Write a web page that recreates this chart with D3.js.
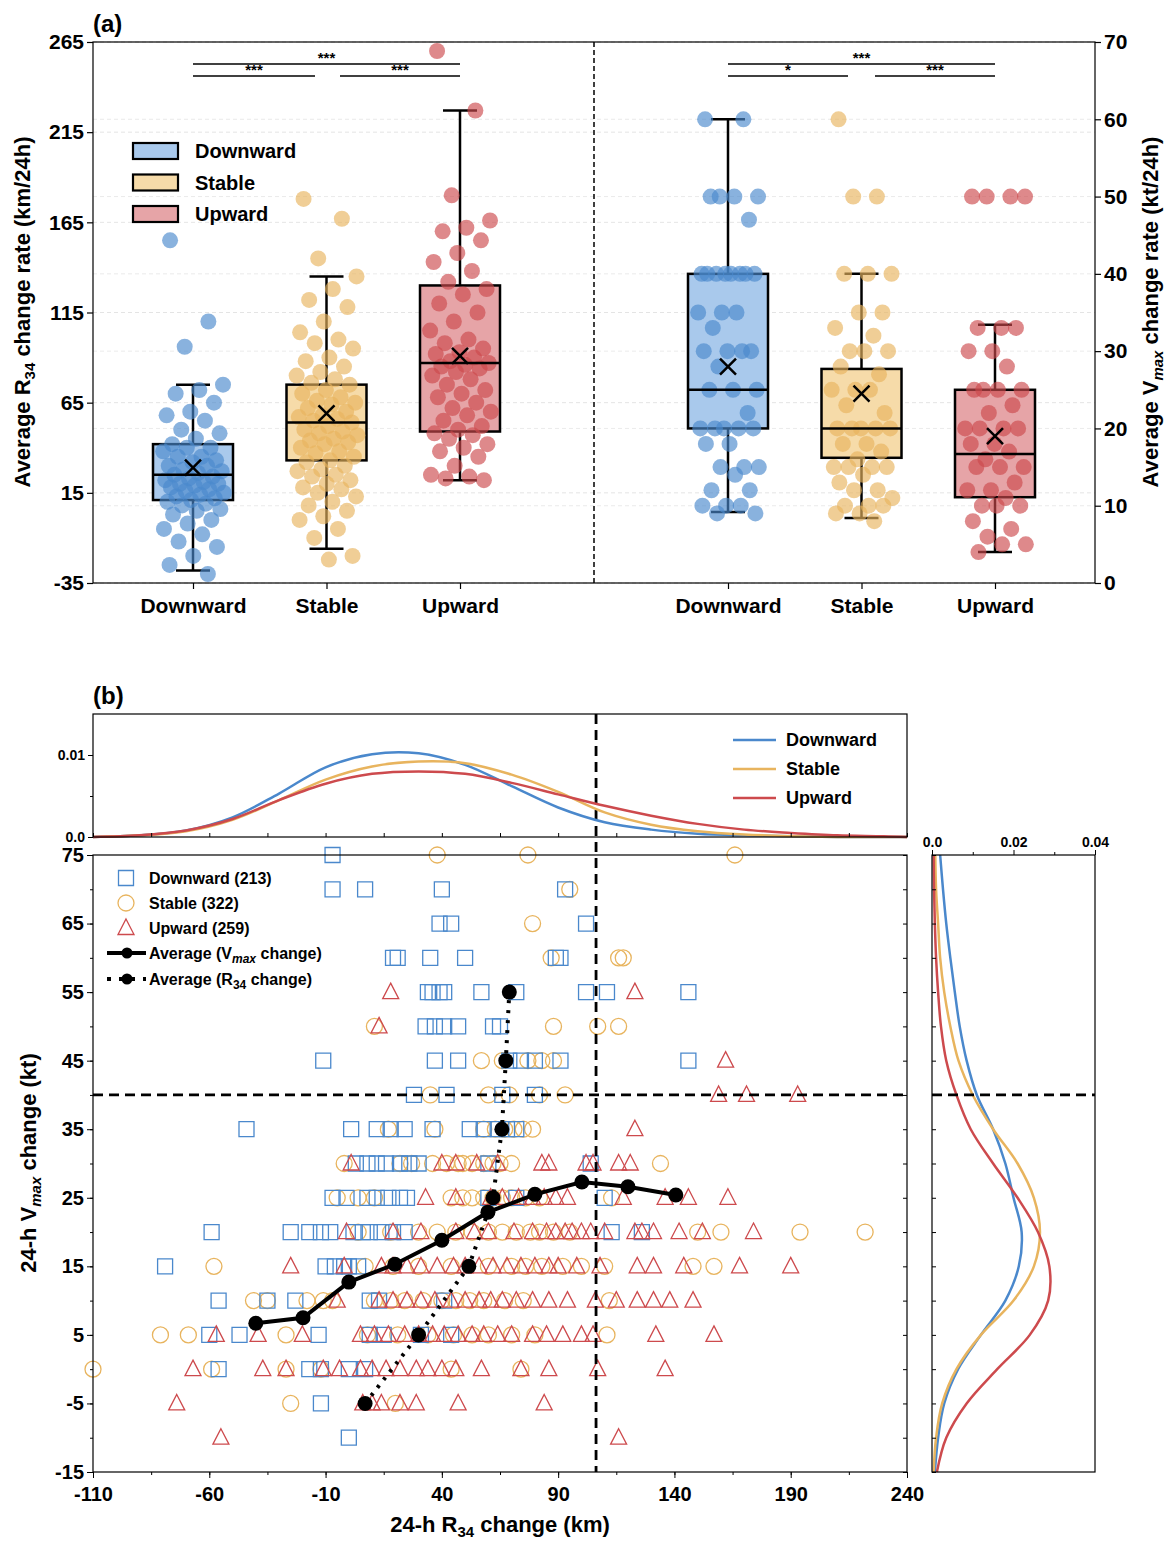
<!DOCTYPE html>
<html><head><meta charset="utf-8">
<script src="https://cdn.jsdelivr.net/npm/d3@7"></script>
<style>
body{margin:0;background:#fff;}
text{font-family:"Liberation Sans",Arial,sans-serif;}
</style></head>
<body><svg id="chart" width="1175" height="1548"></svg>
<script>
// ---------- data: panel (a) ----------
var groups = ["Downward", "Stable", "Upward"];
var colors = ["#4a88cc", "#e8b45e", "#cd4a4d"];
var fills = ["#a9c9ec", "#f6dba9", "#e6a4a7"];

// box stats [whiskerLow, q1, median, q3, whiskerHigh, mean]
var r34Box = [[-28, 11, 25, 42, 75, 29], [-16, 33, 54, 75, 135, 59], [22, 49, 87, 130, 227, 91]];
var vmaxBox = [[9.2, 20, 25, 40, 60, 28], [8.4, 16.2, 20, 27.7, 40, 24.5], [4, 11.1, 16.7, 25, 33.4, 19]];

var r34Down = [155, 110, 96, 75, 72, 70, 65, 60, 58, 55, 50, 48, 45, 42, 40, 40, 38, 35, 35, 33, 32, 30, 30, 28, 27, 26, 25, 24, 23, 22, 21, 20, 20, 19, 18, 17, 16, 15, 14, 13, 12, 11, 10, 9, 8, 6, 5, 3, 0, -2, -5, -8, -12, -15, -20, -25, -30];
var r34Stable = [178, 167, 145, 135, 128, 122, 118, 110, 104, 100, 98, 95, 90, 88, 85, 82, 80, 78, 76, 75, 72, 70, 68, 66, 65, 64, 62, 60, 58, 57, 56, 55, 54, 52, 50, 49, 48, 47, 45, 44, 43, 42, 40, 38, 37, 35, 33, 32, 30, 28, 27, 25, 24, 22, 20, 18, 17, 15, 13, 10, 8, 5, 2, 0, -5, -10, -20, -22];
var r34Up = [260, 227, 180, 166, 162, 160, 155, 148, 143, 138, 132, 128, 125, 120, 115, 110, 105, 100, 98, 95, 93, 92, 90, 88, 87, 86, 85, 84, 82, 80, 78, 75, 72, 70, 68, 65, 62, 60, 58, 55, 52, 50, 48, 47, 45, 42, 40, 38, 35, 30, 25, 24, 23, 22];
var vmaxDown = [60, 60, 50, 50, 50, 50, 47, 40, 40, 40, 40, 40, 40, 40, 40, 35, 35, 35, 33, 30, 30, 30, 30, 28, 25, 25, 25, 22, 20, 20, 20, 20, 20, 18, 18, 15, 15, 15, 14, 12, 12, 10, 10, 10, 9, 9];
var vmaxStable = [60, 50, 50, 40, 40, 40, 35, 35, 33, 32, 30, 30, 30, 28, 27, 25, 25, 25, 23, 22, 20, 20, 20, 20, 20, 18, 18, 17, 16, 15, 15, 15, 15, 14, 13, 12, 12, 11, 10, 10, 10, 9, 9, 8];
var vmaxUp = [50, 50, 50, 50, 33, 33, 33, 30, 30, 28, 25, 25, 25, 25, 23, 22, 20, 20, 20, 20, 18, 18, 17, 16, 15, 15, 15, 13, 12, 12, 11, 10, 10, 10, 8, 7, 6, 5, 5, 4];

var r34Ticks = [-35, 15, 65, 115, 165, 215, 265];
var vmaxTicks = [0, 10, 20, 30, 40, 50, 60, 70];

// ---------- data: panel (b) ----------
var levels = [75, 70, 65, 60, 55, 50, 45, 40, 35, 30, 25, 20, 15, 10, 5, 0, -5, -10];
var scatDown = [
  [-7], [-7, 7, 40, 93], [39, 44, 102], [19, 21, 35, 50, 89, 91],
  [34, 36, 39, 41, 57, 72, 102, 111, 146], [33, 37, 41, 47, 62, 65], [-11, 37, 47, 69, 74, 80, 91, 146],
  [28, 42, 66, 80], [-44, 1, 12, 18, 24, 36, 52, 58, 64, 68, 72],
  [3, 8, 12, 16, 22, 26, 30, 60, 104], [-1, -7, 8, 12, 17, 22, 25, 60, 72, 110],
  [-59, -25, -17, -12, -8, 2, 6, 9, 14, 19, 24, 113, 126], [-79, -10, -6, -2, 0, 4], [-56, -35, -23, 9, 13, 41],
  [-60, -47, -13, 9, 15, 31, 44], [-56, -17, -12, 0, 7], [-12], [0]];
var scatStable = [
  [38, 77, 166], [95], [79], [87, 116, 118],
  [], [11, 88, 107, 116], [57, 66, 77, 83, 88],
  [35, 60, 69, 82, 93], [17, 37, 58, 63, 67, 71, 75, 79],
  [-2, 22, 27, 36, 42, 47, 49, 53, 58, 62, 65, 70, 134], [-5, 4, 11, 44, 49, 53, 58, 62, 66, 70, 76, 82, 113],
  [4, 18, 30, 38, 46, 53, 60, 66, 72, 78, 82, 88, 95, 150, 160, 194, 222], [-58, 7, 19, 30, 44, 60, 70, 76, 83, 92, 100, 110, 148, 157], [-41, -35, -18, -11, -7, 11, 18, 24, 32, 40, 46, 52, 58, 67, 75, 112],
  [-81, -69, -27, 8, 21, 34, 45, 53, 60, 70, 80, 111], [-110, -59, -27, -12, 44, 74], [-25, 20], []];
var scatUp = [
  [], [], [], [],
  [18, 123], [13], [162],
  [159, 171, 193], [123],
  [1, 40, 46, 55, 64, 83, 86, 102, 105, 116, 121], [33, 46, 61, 66, 73, 79, 84, 89, 94, 118, 136, 146, 163],
  [-1, 19, 31, 46, 54, 60, 71, 79, 85, 89, 93, 96, 100, 104, 110, 123, 126, 131, 142, 152, 174], [-25, -2, 14, 19, 25, 31, 38, 45, 50, 56, 62, 68, 74, 80, 86, 90, 98, 108, 124, 131, 144, 168, 190], [-5, 13, 19, 25, 31, 37, 44, 50, 56, 61, 66, 72, 79, 86, 94, 106, 115, 124, 131, 138, 148],
  [-57, -39, -20, 5, 11, 17, 24, 30, 36, 41, 47, 53, 58, 64, 70, 79, 85, 92, 100, 105, 132, 157], [-67, -37, -27, -11, -4, 5, 10, 16, 22, 29, 34, 40, 46, 57, 74, 86, 107, 136], [-74, 6, 10, 14, 22, 29, 47, 84], [-55, 116]];
var avgVmaxX = [-40, -19.7, 0, 19.8, 40, 59.8, 80, 100.2, 120, 140.6];
var avgVmaxY = [6.7, 7.5, 12.7, 15.3, 18.8, 22.9, 25.5, 27.3, 26.6, 25.4];
var avgR34X = [7, 30, 51.6, 62, 65.8, 67.5, 69];
var avgR34Y = [-5, 5, 15, 25, 35, 45, 55];

var kdeXGrid = [-110, -90, -70, -50, -30, -10, 10, 30, 50, 70, 90, 110, 130, 150, 170, 190, 210, 230, 240];
var kdeXDown = [0, 0.0002, 0.0008, 0.0024, 0.0053, 0.0085, 0.0101, 0.0102, 0.0088, 0.0062, 0.0036, 0.0018, 0.0009, 0.0004, 0.0002, 0.0001, 0, 0, 0];
var kdeXStable = [0, 0.0002, 0.0007, 0.0021, 0.0045, 0.0070, 0.0086, 0.0092, 0.0090, 0.0076, 0.0055, 0.0030, 0.0015, 0.0007, 0.0003, 0.0001, 0, 0, 0];
var kdeXUp = [0, 0.0002, 0.0008, 0.0022, 0.0045, 0.0065, 0.0077, 0.0080, 0.0077, 0.0066, 0.0052, 0.0038, 0.0026, 0.0016, 0.0009, 0.0005, 0.0002, 0.0001, 0];
var kdeYGrid = [-15, -10, -5, 0, 5, 10, 15, 20, 25, 30, 35, 40, 45, 50, 55, 60, 65, 70, 75];
var kdeYDown = [0.0007, 0.0015, 0.003, 0.0064, 0.012, 0.018, 0.0213, 0.022, 0.020, 0.018, 0.015, 0.011, 0.0085, 0.0068, 0.0056, 0.0045, 0.0035, 0.0027, 0.002];
var kdeYStable = [0.0004, 0.001, 0.0025, 0.006, 0.012, 0.020, 0.025, 0.0265, 0.025, 0.021, 0.015, 0.010, 0.0065, 0.0045, 0.003, 0.002, 0.0015, 0.001, 0.0008];
var kdeYUp = [0.0012, 0.0035, 0.0085, 0.016, 0.024, 0.0285, 0.0288, 0.026, 0.021, 0.015, 0.0095, 0.006, 0.0035, 0.0022, 0.0015, 0.001, 0.0007, 0.0005, 0.0004];

var r34XTicks = [-110, -60, -10, 40, 90, 140, 190, 240];
var vmaxYTicks = [-15, -5, 5, 15, 25, 35, 45, 55, 65, 75];

// ---------- drawing ----------
var svg = d3.select("#chart");
var FONT = "Liberation Sans, Arial, sans-serif";
var fmtInt = function(d) { return String(d); };   // plain hyphen minus like the original

function jitter(i) { return ((i * 0.6180339 + 0.13) % 1 - 0.5) * 62; }

// ===== panel (a) =====
var aL = 93, aR = 1095, aT = 42, aB = 583;
var yL = d3.scaleLinear().domain([-35, 265]).range([aB, aT]);
var yR = d3.scaleLinear().domain([0, 70]).range([aB, aT]);
var xLeft = d3.scalePoint().domain(groups).range([193, 460]);
var xRight = d3.scalePoint().domain(groups).range([728, 995]);

var pa = svg.append("g");
// faint grid
r34Ticks.forEach(function(t) {
  pa.append("line").attr("x1", aL).attr("x2", aR).attr("y1", yL(t)).attr("y2", yL(t))
    .attr("stroke", "#ddd").attr("stroke-dasharray", "4,3").attr("stroke-width", 0.8);
});
vmaxTicks.forEach(function(t) {
  pa.append("line").attr("x1", aL).attr("x2", aR).attr("y1", yR(t)).attr("y2", yR(t))
    .attr("stroke", "#e4e4e4").attr("stroke-dasharray", "4,3").attr("stroke-width", 0.8);
});

function drawBoxGroup(xs, ys, stats, pts) {
  groups.forEach(function(g, gi) {
    var cx = xs(g), s = stats[gi], bw = 80;
    var gg = pa.append("g");
    gg.append("line").attr("x1", cx).attr("x2", cx).attr("y1", ys(s[0])).attr("y2", ys(s[4]))
      .attr("stroke", "#000").attr("stroke-width", 2.5);
    [s[0], s[4]].forEach(function(v) {
      gg.append("line").attr("x1", cx - 17).attr("x2", cx + 17).attr("y1", ys(v)).attr("y2", ys(v))
        .attr("stroke", "#000").attr("stroke-width", 2.5);
    });
    gg.append("rect").attr("x", cx - bw / 2).attr("width", bw).attr("y", ys(s[3]))
      .attr("height", ys(s[1]) - ys(s[3])).attr("fill", fills[gi]).attr("stroke", "#000").attr("stroke-width", 2.5);
    gg.selectAll("circle").data(pts[gi]).enter().append("circle")
      .attr("cx", function(d, i) { return cx + jitter(i); })
      .attr("cy", function(d) { return ys(d); })
      .attr("r", 8).attr("fill", colors[gi]).attr("fill-opacity", 0.65);
    gg.append("line").attr("x1", cx - bw / 2).attr("x2", cx + bw / 2).attr("y1", ys(s[2])).attr("y2", ys(s[2]))
      .attr("stroke", "#000").attr("stroke-width", 2.5);
    var my = ys(s[5]);
    gg.append("path").attr("d", "M" + (cx - 8) + "," + (my - 8) + "L" + (cx + 8) + "," + (my + 8) +
      "M" + (cx - 8) + "," + (my + 8) + "L" + (cx + 8) + "," + (my - 8))
      .attr("stroke", "#000").attr("stroke-width", 2.5);
  });
}
drawBoxGroup(xLeft, yL, r34Box, [r34Down, r34Stable, r34Up]);
drawBoxGroup(xRight, yR, vmaxBox, [vmaxDown, vmaxStable, vmaxUp]);

pa.append("line").attr("x1", 594).attr("x2", 594).attr("y1", aT).attr("y2", aB)
  .attr("stroke", "#000").attr("stroke-width", 1.5).attr("stroke-dasharray", "5,3");
pa.append("rect").attr("x", aL).attr("y", aT).attr("width", aR - aL).attr("height", aB - aT)
  .attr("fill", "none").attr("stroke", "#000").attr("stroke-width", 1.2);

// significance brackets
function bracket(x1, x2, y, label) {
  pa.append("line").attr("x1", x1).attr("x2", x2).attr("y1", y).attr("y2", y).attr("stroke", "#000").attr("stroke-width", 1.3);
  pa.append("text").attr("x", (x1 + x2) / 2).attr("y", y - 1).attr("text-anchor", "middle")
    .attr("font-size", 15).attr("font-weight", "bold").text(label);
}
bracket(193, 460, 64, "***"); bracket(193, 315, 76, "***"); bracket(340, 460, 76, "***");
bracket(728, 995, 64, "***"); bracket(728, 848, 76, "*"); bracket(875, 995, 76, "***");

// axes (a)
var axL = pa.append("g").attr("transform", "translate(" + aL + ",0)")
  .call(d3.axisLeft(yL).tickValues(r34Ticks).tickFormat(fmtInt).tickSize(6).tickSizeOuter(0));
var axR = pa.append("g").attr("transform", "translate(" + aR + ",0)")
  .call(d3.axisRight(yR).tickValues(vmaxTicks).tickFormat(fmtInt).tickSize(6).tickSizeOuter(0));
var axBL = pa.append("g").attr("transform", "translate(0," + aB + ")")
  .call(d3.axisBottom(xLeft).tickSize(6).tickSizeOuter(0));
var axBR = pa.append("g").attr("transform", "translate(0," + aB + ")")
  .call(d3.axisBottom(xRight).tickSize(6).tickSizeOuter(0));
[axL, axR, axBL, axBR].forEach(function(a) {
  a.select(".domain").remove();
  a.selectAll("text").attr("font-size", 21).attr("font-weight", "bold").attr("fill", "#000").attr("font-family", FONT);
  a.selectAll("line").attr("stroke-width", 1.2);
});
axBL.selectAll("text").attr("dy", "1.0em");
axBR.selectAll("text").attr("dy", "1.0em");

var tl = pa.append("text").attr("transform", "translate(30,312) rotate(-90)").attr("text-anchor", "middle")
  .attr("font-size", 22).attr("font-weight", "bold");
tl.append("tspan").text("Average R");
tl.append("tspan").attr("font-size", 15).attr("dy", 5).text("34");
tl.append("tspan").attr("dy", -5).text(" change rate (km/24h)");
var tr = pa.append("text").attr("transform", "translate(1158,312) rotate(-90)").attr("text-anchor", "middle")
  .attr("font-size", 22).attr("font-weight", "bold");
tr.append("tspan").text("Average V");
tr.append("tspan").attr("font-size", 15).attr("font-style", "italic").attr("dy", 5).text("max");
tr.append("tspan").attr("dy", -5).text(" change rate (kt/24h)");

pa.append("text").attr("x", 93).attr("y", 32).attr("font-size", 24).attr("font-weight", "bold").text("(a)");

// legend (a)
groups.forEach(function(g, i) {
  var y = 143 + i * 31.5;
  pa.append("rect").attr("x", 133).attr("y", y).attr("width", 45).attr("height", 16)
    .attr("fill", fills[i]).attr("stroke", "#000").attr("stroke-width", 2.2);
  pa.append("text").attr("x", 195).attr("y", y + 15).attr("font-size", 20).attr("font-weight", "bold").text(g);
});

// ===== panel (b) =====
var bL = 93, bR = 907, bT = 855, bB = 1472;
var x = d3.scaleLinear().domain([-110, 240]).range([bL, bR]);
var y = d3.scaleLinear().domain([-15, 75]).range([bB, bT]);
var pb = svg.append("g");

// scatter
function drawLevels(data, gi) {
  var flat = [];
  levels.forEach(function(l, li) { data[li].forEach(function(v) { flat.push([v, l]); }); });
  var sel = pb.append("g").selectAll("path").data(flat).enter().append("path")
    .attr("transform", function(d) { return "translate(" + x(d[0]) + "," + y(d[1]) + ")"; })
    .attr("fill", "none").attr("stroke", colors[gi]).attr("stroke-width", 1.3);
  if (gi === 0) sel.attr("d", "M-7.5,-7.5h15v15h-15z");
  else if (gi === 1) sel.attr("d", "M8,0A8,8 0 1,1 -8,0A8,8 0 1,1 8,0");
  else sel.attr("d", "M0,-9L8,6.5L-8,6.5Z");
}
drawLevels(scatStable, 1);
drawLevels(scatDown, 0);
drawLevels(scatUp, 2);

// dashed reference lines
pb.append("line").attr("x1", x(106.3)).attr("x2", x(106.3)).attr("y1", 714).attr("y2", bB)
  .attr("stroke", "#000").attr("stroke-width", 2.8).attr("stroke-dasharray", "10,6");
pb.append("line").attr("x1", bL).attr("x2", bR).attr("y1", y(40)).attr("y2", y(40))
  .attr("stroke", "#000").attr("stroke-width", 2.8).attr("stroke-dasharray", "10,6");

// averages
var avgV = avgVmaxX.map(function(d, i) { return [d, avgVmaxY[i]]; });
var avgR = avgR34X.map(function(d, i) { return [d, avgR34Y[i]]; });
var ln = d3.line().x(function(d) { return x(d[0]); }).y(function(d) { return y(d[1]); });
pb.append("path").attr("d", ln(avgR)).attr("fill", "none").attr("stroke", "#000").attr("stroke-width", 4).attr("stroke-dasharray", "3,7");
pb.append("path").attr("d", ln(avgV)).attr("fill", "none").attr("stroke", "#000").attr("stroke-width", 4);
pb.selectAll(".dot").data(avgV.concat(avgR)).enter().append("circle")
  .attr("cx", function(d) { return x(d[0]); }).attr("cy", function(d) { return y(d[1]); }).attr("r", 7.5).attr("fill", "#000");

pb.append("rect").attr("x", bL).attr("y", bT).attr("width", bR - bL).attr("height", bB - bT)
  .attr("fill", "none").attr("stroke", "#000").attr("stroke-width", 1.2);

var minorX = d3.range(-110, 241, 25), minorY = d3.range(-15, 76, 5);
var axX = pb.append("g").attr("transform", "translate(0," + bB + ")")
  .call(d3.axisBottom(x).tickValues(r34XTicks).tickFormat(fmtInt).tickSize(6).tickSizeOuter(0));
var axY = pb.append("g").attr("transform", "translate(" + bL + ",0)")
  .call(d3.axisLeft(y).tickValues(vmaxYTicks).tickFormat(fmtInt).tickSize(6).tickSizeOuter(0));
pb.append("g").attr("transform", "translate(0," + bB + ")")
  .call(d3.axisBottom(x).tickValues(minorX).tickSize(3).tickFormat("")).select(".domain").remove();
pb.append("g").attr("transform", "translate(" + bL + ",0)")
  .call(d3.axisLeft(y).tickValues(minorY).tickSize(3).tickFormat("")).select(".domain").remove();
pb.append("g").attr("transform", "translate(" + bR + ",0)")
  .call(d3.axisLeft(y).tickValues(minorY).tickSize(4).tickFormat("")).select(".domain").remove();
[axX, axY].forEach(function(a) {
  a.select(".domain").remove();
  a.selectAll("text").attr("font-size", 20).attr("font-weight", "bold").attr("fill", "#000").attr("font-family", FONT);
});
axX.selectAll("text").attr("dy", "1.0em");

var xt = pb.append("text").attr("x", 500).attr("y", 1532).attr("text-anchor", "middle").attr("font-size", 22).attr("font-weight", "bold");
xt.append("tspan").text("24-h R");
xt.append("tspan").attr("font-size", 15).attr("dy", 5).text("34");
xt.append("tspan").attr("dy", -5).text(" change (km)");
var yt = pb.append("text").attr("transform", "translate(36,1163) rotate(-90)").attr("text-anchor", "middle").attr("font-size", 22).attr("font-weight", "bold");
yt.append("tspan").text("24-h V");
yt.append("tspan").attr("font-size", 15).attr("font-style", "italic").attr("dy", 5).text("max");
yt.append("tspan").attr("dy", -5).text(" change (kt)");

// legend (b)
var lg = pb.append("g");
var lgT = ["Downward (213)", "Stable (322)", "Upward (259)"];
var symD = ["M-7.5,-7.5h15v15h-15z", "M8,0A8,8 0 1,1 -8,0A8,8 0 1,1 8,0", "M0,-9L8,6.5L-8,6.5Z"];
lgT.forEach(function(t, i) {
  var yy = 878 + i * 25;
  lg.append("path").attr("d", symD[i]).attr("transform", "translate(126," + yy + ")")
    .attr("fill", "none").attr("stroke", colors[i]).attr("stroke-width", 1.3);
  lg.append("text").attr("x", 149).attr("y", yy + 6).attr("font-size", 16).attr("font-weight", "bold").text(t);
});
[0, 1].forEach(function(i) {
  var yy = 953 + i * 26;
  lg.append("line").attr("x1", 107).attr("x2", 146).attr("y1", yy).attr("y2", yy).attr("stroke", "#000")
    .attr("stroke-width", 4).attr("stroke-dasharray", i ? "4,8" : null);
  lg.append("circle").attr("cx", 127).attr("cy", yy).attr("r", 5.5).attr("fill", "#000");
  var tx = lg.append("text").attr("x", 149).attr("y", yy + 6).attr("font-size", 16).attr("font-weight", "bold");
  tx.append("tspan").text(i ? "Average (R" : "Average (V");
  tx.append("tspan").attr("font-size", 12).attr("dy", 4).attr("font-style", i ? null : "italic").text(i ? "34" : "max");
  tx.append("tspan").attr("dy", -4).text(" change)");
});

// top KDE
var tT = 714, tB = 837;
var yk = d3.scaleLinear().domain([0, 0.015]).range([tB, tT]);
var kx = [kdeXDown, kdeXStable, kdeXUp];
var pt = svg.append("g");
kx.forEach(function(arr, gi) {
  pt.append("path").datum(arr).attr("fill", "none").attr("stroke", colors[gi]).attr("stroke-width", 2.5)
    .attr("d", d3.line().curve(d3.curveCatmullRom).x(function(d, i) { return x(kdeXGrid[i]); }).y(function(d) { return yk(d); }));
});
pt.append("rect").attr("x", bL).attr("y", tT).attr("width", bR - bL).attr("height", tB - tT)
  .attr("fill", "none").attr("stroke", "#000").attr("stroke-width", 1.2);
var aky = pt.append("g").attr("transform", "translate(" + bL + ",0)")
  .call(d3.axisLeft(yk).tickValues([0, 0.01]).tickSize(5).tickSizeOuter(0));
aky.select(".domain").remove();
aky.selectAll("text").text(function(d) { return d === 0 ? "0.0" : "0.01"; });
pt.append("g").attr("transform", "translate(" + bL + ",0)")
  .call(d3.axisLeft(yk).tickValues([0.005]).tickSize(3).tickFormat("")).select(".domain").remove();
pt.append("g").attr("transform", "translate(0," + tB + ")")
  .call(d3.axisTop(x).tickValues(minorX).tickSize(4).tickFormat("")).select(".domain").remove();
aky.selectAll("text").attr("font-size", 14).attr("font-weight", "bold").attr("fill", "#000");
groups.forEach(function(g, i) {
  var yy = 740 + i * 29;
  pt.append("line").attr("x1", 733).attr("x2", 776).attr("y1", yy).attr("y2", yy).attr("stroke", colors[i]).attr("stroke-width", 2.5);
  pt.append("text").attr("x", 786).attr("y", yy + 6).attr("font-size", 18).attr("font-weight", "bold").text(g);
});
pt.append("text").attr("x", 93).attr("y", 704).attr("font-size", 24).attr("font-weight", "bold").text("(b)");

// right KDE
var rL = 932, rR = 1095;
var xk = d3.scaleLinear().domain([0, 0.04]).range([rL, rR]);
var ky = [kdeYDown, kdeYStable, kdeYUp];
var pr = svg.append("g");
ky.forEach(function(arr, gi) {
  pr.append("path").datum(arr).attr("fill", "none").attr("stroke", colors[gi]).attr("stroke-width", 2.5)
    .attr("d", d3.line().curve(d3.curveCatmullRom).x(function(d) { return xk(d); }).y(function(d, i) { return y(kdeYGrid[i]); }));
});
pr.append("line").attr("x1", rL).attr("x2", rR).attr("y1", y(40)).attr("y2", y(40))
  .attr("stroke", "#000").attr("stroke-width", 2.8).attr("stroke-dasharray", "10,6");
pr.append("rect").attr("x", rL).attr("y", bT).attr("width", rR - rL).attr("height", bB - bT)
  .attr("fill", "none").attr("stroke", "#000").attr("stroke-width", 1.2);
var akx = pr.append("g").attr("transform", "translate(0," + bT + ")")
  .call(d3.axisTop(xk).tickValues([0, 0.02, 0.04]).tickSize(5).tickSizeOuter(0));
akx.select(".domain").remove();
akx.selectAll("text").text(function(d) { return d === 0 ? "0.0" : d3.format(".2f")(d); })
  .attr("font-size", 14).attr("font-weight", "bold").attr("fill", "#000");
pr.append("g").attr("transform", "translate(0," + bT + ")")
  .call(d3.axisTop(xk).tickValues([0.01, 0.03]).tickSize(3).tickFormat("")).select(".domain").remove();
pr.append("g").attr("transform", "translate(" + rL + ",0)")
  .call(d3.axisRight(y).tickValues(minorY).tickSize(4).tickFormat("")).select(".domain").remove();
</script></body></html>
